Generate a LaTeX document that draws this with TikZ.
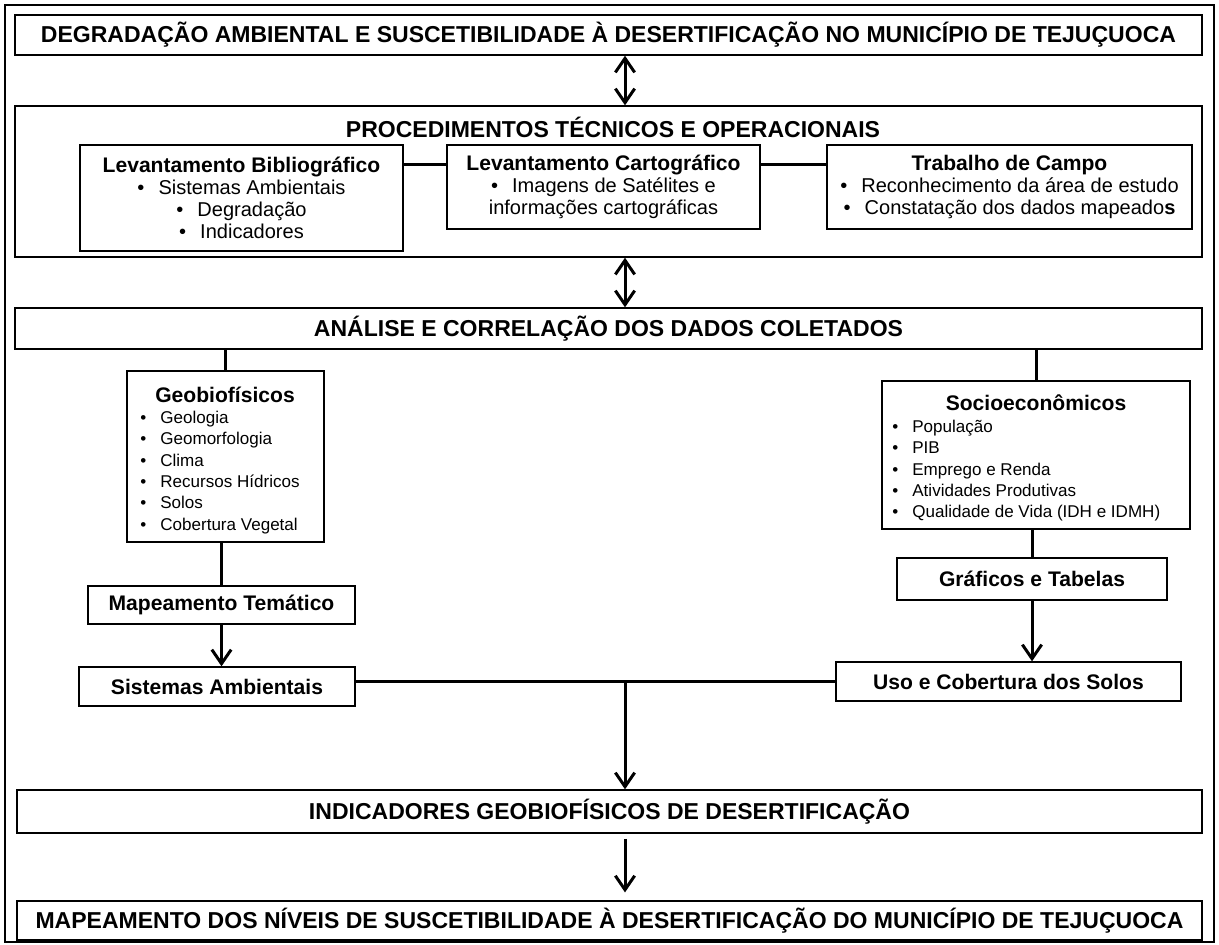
\documentclass[tikz,border=0pt]{standalone}
\usepackage{fontspec}
\setmainfont{Liberation Sans}
\usetikzlibrary{arrows.meta,positioning,calc}
\newcommand{\itm}{\textbullet\hspace{8pt}}
\newcommand{\boxtit}[1]{{\fontsize{12}{12.2}\selectfont\bfseries #1}}

\begin{document}
\begin{tikzpicture}[x=0.02cm,y=-0.02cm,
    box/.style={draw,line width=0.8pt,inner sep=0pt,align=center},
    sized/.style 2 args={minimum width=#1*0.02cm,minimum height=#2*0.02cm},
    hdr/.style={font=\fontsize{13.1}{15}\selectfont\bfseries},
    sub/.style={font=\fontsize{11.4}{12.4}\selectfont},
    lst/.style={font=\fontsize{9.7}{12.1}\selectfont,align=left,inner sep=0pt},
    lbl/.style={font=\fontsize{12}{14}\selectfont\bfseries},
    link/.style={line width=1.7pt},
    arr/.style={link,-{Straight Barb[length=8pt,width=11pt]}},
    dbl/.style={link,{Straight Barb[length=8pt,width=11pt]}-{Straight Barb[length=8pt,width=11pt]}}]
                \useasboundingbox (0,0) rectangle (1219,944);
                \draw[line width=1.1pt] (5,5) rectangle (1214,942);

                % Title
                \node[box,hdr,sized={1187}{40}] (title) at (608.5,35) {DEGRADAÇÃO AMBIENTAL E SUSCETIBILIDADE À DESERTIFICAÇÃO NO MUNICÍPIO DE TEJUÇUOCA};

                % Procedures
                \begin{scope}
                    \node[box,sized={1187}{151}] (proc) at (608.5,181.5) {};
                    \node[hdr] (proclabel) at (613,127) {PROCEDIMENTOS TÉCNICOS E OPERACIONAIS};
                    \node[box,sub,sized={323}{106}] (levbib) at (241.5,198) {\boxtit{Levantamento Bibliográfico}\\ \itm Sistemas Ambientais\\ \itm Degradação\\ \itm Indicadores};
                    \node[box,sub,sized={313}{84}] (levcart) at (603.5,187) {\boxtit{Levantamento Cartográfico}\\ \itm Imagens de Satélites e\\ informações cartográficas};
                    \node[box,sub,sized={365}{84}] (trab) at (1009.5,187) {\boxtit{Trabalho de Campo}\\ \itm Reconhecimento da área de estudo\\ \itm Constatação dos dados mapeado\textbf{s}};
                    \draw[link] ($(levbib.north east)+(0,20)$) -- ($(levcart.north west)+(0,20)$);
                    \draw[link] ($(levcart.north east)+(0,20)$) -- ($(trab.north west)+(0,20)$);
                \end{scope}

                % Analysis
                \node[box,hdr,sized={1187}{41}] (analise) at (608.5,328.5) {ANÁLISE E CORRELAÇÃO DOS DADOS COLETADOS};
                \coordinate (axis) at (625,0);
                \draw[dbl] (title.south -| axis) -- (proc.north -| axis);
                \draw[dbl] (proc.south -| axis) -- (analise.north -| axis);

                % Geobiophysical branch
                \node[box,sized={197}{171}] (geobio) at (225.5,456.5) {};
                \node[lbl] (geotit) at (225,395) {Geobiofísicos};
                \node[lst,anchor=north west] (geolst) at (140,411) {\itm Geologia\\ \itm Geomorfologia\\ \itm Clima\\ \itm Recursos Hídricos\\ \itm Solos\\ \itm Cobertura Vegetal};
                \node[box,lbl,sized={267}{38}] (mapeamento) at (221.5,605) {Mapeamento Temático};
                \node[box,lbl,sized={276}{39}] (sistemas) at (217,686.5) {Sistemas Ambientais};
                \draw[link] (analise.south -| geobio.north) -- (geobio.north);
                \draw[link] (geobio.south -| mapeamento.north) -- (mapeamento.north);
                \draw[arr] (mapeamento.south) -- (mapeamento.south |- sistemas.north);

                % Socioeconomic branch
                \node[box,sized={308}{148}] (socio) at (1036,455) {};
                \node[lbl] (sociotit) at (1036,403) {Socioeconômicos};
                \node[lst,anchor=north west] (sociolst) at (892,420) {\itm População\\ \itm PIB\\ \itm Emprego e Renda\\ \itm Atividades Produtivas\\ \itm Qualidade de Vida (IDH e IDMH)};
                \node[box,lbl,sized={270}{42}] (graficos) at (1032,579) {Gráficos e Tabelas};
                \node[box,lbl,sized={345}{39}] (uso) at (1008.5,681.5) {Uso e Cobertura dos Solos};
                \draw[link] (analise.south -| socio.north) -- (socio.north);
                \draw[link] (socio.south -| graficos.north) -- (graficos.north);
                \draw[arr] (graficos.south) -- (graficos.south |- uso.north);

                % Results
                \node[box,hdr,sized={1185}{43}] (ind) at (609.5,811.5) {INDICADORES GEOBIOFÍSICOS DE DESERTIFICAÇÃO};
                \node[box,hdr,sized={1185}{39}] (mapfinal) at (609.5,920.5) {MAPEAMENTO DOS NÍVEIS DE SUSCETIBILIDADE À DESERTIFICAÇÃO DO MUNICÍPIO DE TEJUÇUOCA};
                \draw[link] (sistemas.east |- uso.west) -- (uso.west);
                \coordinate (join) at (axis |- uso.west);
                \draw[arr] (join) -- (join |- ind.north);
                \draw[arr,shorten <=3pt,shorten >=4.5pt] (ind.south -| axis) -- (mapfinal.north -| axis);
\end{tikzpicture}
\end{document}
